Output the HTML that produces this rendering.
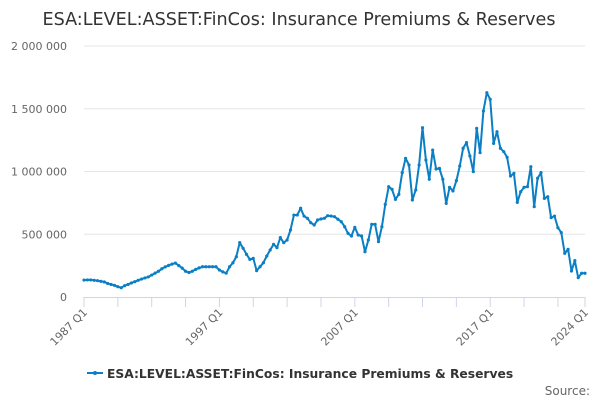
<!DOCTYPE html>
<html><head><meta charset="utf-8"><style>
body{margin:0;background:#fff;width:600px;height:400px;overflow:hidden;font-family:"DejaVu Sans","Liberation Sans",sans-serif}
</style></head><body>
<svg id="c" width="600" height="400" xmlns="http://www.w3.org/2000/svg">
<text x="299" y="25" text-anchor="middle" font-size="17.6" fill="#333">ESA:LEVEL:ASSET:FinCos: Insurance Premiums &amp; Reserves</text>
<g id="grid"></g><g id="xaxis"></g><g id="series"></g>
<g>
<line x1="87" y1="373" x2="103" y2="373" stroke="#0a7fc5" stroke-width="2"/>
<circle cx="95" cy="373" r="2" fill="#0a7fc5"/>
<text x="107" y="378" font-size="12.3" font-weight="bold" fill="#333">ESA:LEVEL:ASSET:FinCos: Insurance Premiums &amp; Reserves</text>
</g>
<text x="590" y="395" text-anchor="end" font-size="12" fill="#666">Source:</text>
</svg>
<script>
const values=[135,136,136,133,130,125,120,108,100,93,82,74,
90,100,112,122,133,143,152,160,175,190,205,225,240,252,262,270,250,230,
205,195,205,220,232,241,241,241,241,241,215,200,190,241,273,321,433,388,340,300,
308,210,241,273,327,375,420,393,473,433,454,534,653,653,707,645,627,592,574,614,
622,627,648,645,640,620,600,560,507,486,555,494,486,361,454,579,579,441,560,738,
879,858,778,818,991,1105,1052,773,853,1052,1349,1092,938,1171,1020,1025,938,746,874,845,
927,1044,1185,1230,1124,999,1344,1150,1482,1628,1575,1224,1317,1185,1158,1113,964,985,754,839,
874,879,1038,720,946,991,786,799,632,645,552,513,348,380,207,290,154,189,189];
const yTicks=[0,500000,1000000,1500000,2000000];
const yTickLabels=["0","500 000","1 000 000","1 500 000","2 000 000"];
const xLabelIdx=[0,40,80,120,148];
const xLabels=["1987 Q1","1997 Q1","2007 Q1","2017 Q1","2024 Q1"];
const NS="http://www.w3.org/2000/svg";
const X0=84,X1=585,Y0=297,Y1=46;
const n=values.length;
function xs(i){return X0+(X1-X0)*i/(n-1);}
function ys(v){return Y0-(Y0-Y1)*v/2000000;}
function mk(t,a,p){const e=document.createElementNS(NS,t);for(const k in a)e.setAttribute(k,a[k]);p.appendChild(e);return e;}
const grid=document.getElementById('grid');
yTicks.forEach((v,i)=>{
 if(v>0){const l=mk('line',{x1:X0,x2:X1,y1:ys(v),y2:ys(v),stroke:'#e6e6e6','stroke-width':1},grid);
 
 }
 const t=mk('text',{x:67,y:ys(v)+4,'text-anchor':'end','font-size':11,fill:'#666'},grid);
 t.textContent=yTickLabels[i];
 
 
});
const xa=document.getElementById('xaxis');
const ax=mk('line',{x1:X0,x2:X1,y1:Y0+0.5,y2:Y0+0.5,stroke:'#ccd6eb','stroke-width':1},xa);


for(let i=0;i<n;i+=10){const tk=mk('line',{x1:xs(i),x2:xs(i),y1:Y0,y2:Y0+10,stroke:'#ccd6eb'},xa);
 
 }
const tl=mk('line',{x1:xs(n-1),x2:xs(n-1),y1:Y0,y2:Y0+10,stroke:'#ccd6eb'},xa);


xLabelIdx.forEach((idx,j)=>{
 const x=xs(idx)+4,y=Y0+16;
 const t=mk('text',{x:x,y:y,'text-anchor':'end','font-size':11,fill:'#666',transform:`rotate(-45 ${x} ${y})`},xa);
 t.textContent=xLabels[j];
 
 
});
const s=document.getElementById('series');
const pts=values.map((v,i)=>xs(i).toFixed(1)+','+ys(v*1000).toFixed(1)).join(' ');
const pl=mk('polyline',{points:pts,fill:'none',stroke:'#0a7fc5','stroke-width':2,'stroke-linejoin':'round'},s);


values.forEach((v,i)=>{const c=mk('circle',{cx:xs(i),cy:ys(v*1000),r:1.6,fill:'#0a7fc5'},s);
 
 });
</script>
</body></html>
